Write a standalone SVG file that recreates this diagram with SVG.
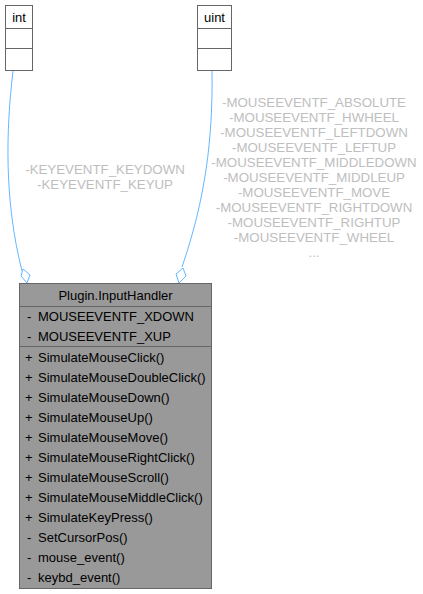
<svg xmlns="http://www.w3.org/2000/svg" width="423" height="594" viewBox="0 0 423 594">
<style>
text{font-family:"Liberation Sans",Arial,Helvetica,sans-serif;font-size:13px;fill:#000}
.lbl{fill:#bebebe;text-anchor:middle;font-size:13.3px}
.mid{text-anchor:middle}
.box{fill:#fff;stroke:#666;stroke-width:1}
.cls{fill:#999;stroke:#666;stroke-width:1}
.edge{fill:none;stroke:#63b8ff;stroke-width:1}
.dia{fill:#fff;stroke:#63b8ff;stroke-width:1}
</style>
<g id="connectors">
<path class="edge" d="M13,71 C6,130 4,200 22,271"/>
<polygon class="dia" points="27,283 30,275 23,269 21,276"/>
<path class="edge" d="M212,71 C213,140 205,200 182,267"/>
<polygon class="dia" points="179,283 186,276 183,268 176,274"/>
<g id="label-int">
<text class="lbl" x="105" y="174">-KEYEVENTF_KEYDOWN</text>
<text class="lbl" x="105" y="189">-KEYEVENTF_KEYUP</text>
</g>
<g id="label-uint">
<text class="lbl" x="314" y="107">-MOUSEEVENTF_ABSOLUTE</text>
<text class="lbl" x="314" y="122">-MOUSEEVENTF_HWHEEL</text>
<text class="lbl" x="314" y="137">-MOUSEEVENTF_LEFTDOWN</text>
<text class="lbl" x="314" y="152">-MOUSEEVENTF_LEFTUP</text>
<text class="lbl" x="314" y="167">-MOUSEEVENTF_MIDDLEDOWN</text>
<text class="lbl" x="314" y="182">-MOUSEEVENTF_MIDDLEUP</text>
<text class="lbl" x="314" y="197">-MOUSEEVENTF_MOVE</text>
<text class="lbl" x="314" y="212">-MOUSEEVENTF_RIGHTDOWN</text>
<text class="lbl" x="314" y="227">-MOUSEEVENTF_RIGHTUP</text>
<text class="lbl" x="314" y="242">-MOUSEEVENTF_WHEEL</text>
<text class="lbl" x="314" y="257">...</text>
</g>
</g>
<g id="node-int">
<rect class="box" x="5.5" y="5.5" width="27" height="65"/>
<line class="box" x1="5.5" y1="28.5" x2="32.5" y2="28.5"/>
<line class="box" x1="5.5" y1="48.5" x2="32.5" y2="48.5"/>
<text class="mid" x="19" y="22">int</text>
</g>
<g id="node-uint">
<rect class="box" x="197.5" y="5.5" width="34" height="65"/>
<line class="box" x1="197.5" y1="28.5" x2="231.5" y2="28.5"/>
<line class="box" x1="197.5" y1="48.5" x2="231.5" y2="48.5"/>
<text class="mid" x="214.5" y="22">uint</text>
</g>
<g id="node-InputHandler">
<rect class="cls" x="19.5" y="283.5" width="192" height="305"/>
<line class="cls" x1="19.5" y1="306.5" x2="211.5" y2="306.5"/>
<line class="cls" x1="19.5" y1="346.5" x2="211.5" y2="346.5"/>
<text class="mid" x="115.5" y="300">Plugin.InputHandler</text>
<text x="27" y="321">-</text><text x="38" y="321">MOUSEEVENTF_XDOWN</text>
<text x="27" y="341">-</text><text x="38" y="341">MOUSEEVENTF_XUP</text>
<text x="25" y="362">+</text><text x="38" y="362">SimulateMouseClick()</text>
<text x="25" y="382">+</text><text x="38" y="382">SimulateMouseDoubleClick()</text>
<text x="25" y="402">+</text><text x="38" y="402">SimulateMouseDown()</text>
<text x="25" y="422">+</text><text x="38" y="422">SimulateMouseUp()</text>
<text x="25" y="442">+</text><text x="38" y="442">SimulateMouseMove()</text>
<text x="25" y="462">+</text><text x="38" y="462">SimulateMouseRightClick()</text>
<text x="25" y="482">+</text><text x="38" y="482">SimulateMouseScroll()</text>
<text x="25" y="502">+</text><text x="38" y="502">SimulateMouseMiddleClick()</text>
<text x="25" y="522">+</text><text x="38" y="522">SimulateKeyPress()</text>
<text x="27" y="542">-</text><text x="38" y="542">SetCursorPos()</text>
<text x="27" y="562">-</text><text x="38" y="562">mouse_event()</text>
<text x="27" y="582">-</text><text x="38" y="582">keybd_event()</text>
</g>
</svg>
